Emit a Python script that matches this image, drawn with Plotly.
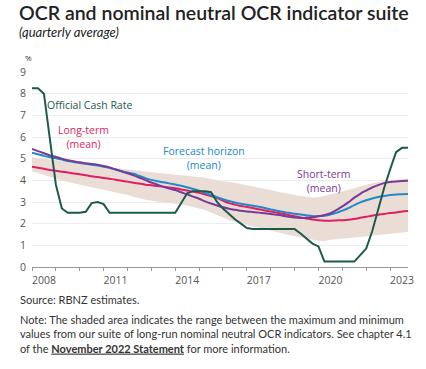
import plotly.graph_objects as go

# ---------------- data (quarterly, 2008Q1 .. 2023Q4) ----------------
quarters = [f"{y}Q{q}" for y in range(2008, 2024) for q in range(1, 5)]
x_years = [2008 + i * 0.25 for i in range(len(quarters))]

ocr = [8.25, 8.25, 8.0, 5.8,
       3.8, 2.7, 2.5, 2.5,
       2.5, 2.55, 2.95, 3.0,
       2.9, 2.5, 2.5, 2.5,
       2.5, 2.5, 2.5, 2.5,
       2.5, 2.5, 2.5, 2.5,
       2.5, 2.95, 3.4, 3.5,
       3.5, 3.5, 3.45, 3.0,
       2.7, 2.45, 2.2, 2.0,
       1.8, 1.75, 1.75, 1.75,
       1.75, 1.75, 1.75, 1.75,
       1.75, 1.55, 1.3, 1.08,
       0.95, 0.25, 0.25, 0.25,
       0.25, 0.25, 0.25, 0.55,
       0.85, 1.65, 2.7, 3.65,
       4.5, 5.3, 5.5, 5.5]

short_term = [5.45, 5.35, 5.25, 5.15,
              5.08, 5.0, 4.93, 4.88,
              4.83, 4.79, 4.75, 4.72,
              4.66, 4.59, 4.5, 4.42,
              4.33, 4.23, 4.12, 4.01,
              3.9, 3.8, 3.7, 3.62,
              3.55, 3.45, 3.35, 3.25,
              3.15, 3.03, 2.93, 2.84,
              2.76, 2.69, 2.64, 2.6,
              2.56, 2.54, 2.51, 2.48,
              2.45, 2.41, 2.37, 2.32,
              2.28, 2.26, 2.27, 2.3,
              2.34, 2.4, 2.48, 2.62,
              2.8, 2.98, 3.2, 3.38,
              3.53, 3.67, 3.78, 3.87,
              3.92, 3.95, 3.97, 3.98]

forecast_horizon = [5.27, 5.2, 5.13, 5.07,
                    5.02, 4.96, 4.89, 4.85,
                    4.8, 4.76, 4.72, 4.68,
                    4.63, 4.58, 4.5, 4.42,
                    4.36, 4.3, 4.2, 4.1,
                    4.02, 3.96, 3.91, 3.86,
                    3.81, 3.75, 3.68, 3.6,
                    3.52, 3.42, 3.32, 3.22,
                    3.13, 3.05, 2.98, 2.92,
                    2.87, 2.83, 2.78, 2.72,
                    2.66, 2.6, 2.55, 2.5,
                    2.46, 2.42, 2.38, 2.35,
                    2.35, 2.37, 2.42, 2.5,
                    2.6, 2.72, 2.86, 2.98,
                    3.08, 3.16, 3.23, 3.28,
                    3.32, 3.35, 3.36, 3.37]

long_term = [4.63, 4.58, 4.53, 4.48,
             4.44, 4.4, 4.36, 4.32,
             4.28, 4.23, 4.19, 4.15,
             4.11, 4.07, 4.03, 3.98,
             3.94, 3.89, 3.85, 3.8,
             3.77, 3.74, 3.71, 3.67,
             3.63, 3.58, 3.53, 3.48,
             3.42, 3.35, 3.27, 3.18,
             3.06, 2.95, 2.88, 2.82,
             2.77, 2.72, 2.67, 2.61,
             2.56, 2.51, 2.46, 2.4,
             2.34, 2.29, 2.24, 2.19,
             2.16, 2.14, 2.14, 2.15,
             2.16, 2.18, 2.22, 2.27,
             2.32, 2.37, 2.41, 2.45,
             2.49, 2.52, 2.56, 2.59]

range_max = [5.07, 5.04, 5.0, 4.96,
             4.92, 4.89, 4.86, 4.83,
             4.79, 4.76, 4.73, 4.71,
             4.67, 4.62, 4.57, 4.53,
             4.5, 4.47, 4.44, 4.41,
             4.38, 4.35, 4.32, 4.29,
             4.26, 4.23, 4.2, 4.18,
             4.16, 4.12, 4.06, 4.0,
             3.96, 3.93, 3.88, 3.83,
             3.77, 3.72, 3.67, 3.61,
             3.55, 3.49, 3.43, 3.37,
             3.33, 3.28, 3.24, 3.2,
             3.22, 3.28, 3.35, 3.42,
             3.49, 3.56, 3.64, 3.72,
             3.8, 3.87, 3.92, 3.97,
             4.0, 4.03, 4.06, 4.08]

range_min = [4.42, 4.33, 4.24, 4.15,
             4.07, 3.99, 3.92, 3.86,
             3.8, 3.75, 3.7, 3.65,
             3.58, 3.52, 3.46, 3.39,
             3.32, 3.24, 3.16, 3.1,
             3.06, 3.03, 3.0, 2.97,
             2.93, 2.88, 2.84, 2.78,
             2.72, 2.63, 2.52, 2.4,
             2.28, 2.17, 2.08, 2.0,
             1.93, 1.87, 1.82, 1.76,
             1.69, 1.62, 1.55, 1.48,
             1.42, 1.36, 1.3, 1.25,
             1.21, 1.2, 1.26, 1.28,
             1.3, 1.32, 1.34, 1.37,
             1.41, 1.45, 1.48, 1.52,
             1.55, 1.58, 1.6, 1.62]

year_labels = ["2008", "2011", "2014", "2017", "2020", "2023"]
y_ticks = [0, 1, 2, 3, 4, 5, 6, 7, 8, 9]

# ---------------- styles ----------------
C_OCR = "#1d5a4c"
C_LONG = "#e01f63"
C_FCST = "#2288c9"
C_SHORT = "#7b3a96"
C_BAND = "rgba(234,221,213,1)"
TXT = "#333333"
FONT = "Lato"
LFONT = "Open Sans"

fig = go.Figure()

fig.add_trace(go.Scatter(x=x_years, y=range_max, mode="lines",
                         line=dict(width=0, color=C_BAND), hoverinfo="skip",
                         showlegend=False))
fig.add_trace(go.Scatter(x=x_years, y=range_min, mode="lines", fill="tonexty",
                         fillcolor=C_BAND, line=dict(width=0, color=C_BAND),
                         hoverinfo="skip", showlegend=False))

for ys, col, nm, shp in [(long_term, C_LONG, "Long-term (mean)", "spline"),
                         (forecast_horizon, C_FCST, "Forecast horizon (mean)", "spline"),
                         (short_term, C_SHORT, "Short-term (mean)", "spline"),
                         (ocr, C_OCR, "Official Cash Rate", "linear")]:
    fig.add_trace(go.Scatter(x=x_years, y=ys, mode="lines", name=nm,
                             line=dict(color=col, width=2, shape=shp),
                             showlegend=False))

W, H = 426, 369
L, R, T, B = 32, 15, 72, 102
pw, ph = W - L - R, H - T - B


def px(xpix):
    return (xpix - L) / pw


def py(ypix):
    return (H - B - ypix) / ph


anns = []
anns.append(dict(text="OCR and nominal neutral OCR indicator suite", x=px(17), y=py(13),
                 xanchor="left", yanchor="middle", showarrow=False,
                 font=dict(family=FONT, size=19.5, color="#222", weight=600)))
anns.append(dict(text="<i>(quarterly average)</i>", x=px(17), y=py(32),
                 xanchor="left", yanchor="middle", showarrow=False,
                 font=dict(family=FONT, size=13, color="#222")))
anns.append(dict(text="%", x=px(28), y=py(57), xanchor="center", yanchor="middle",
                 showarrow=False, font=dict(family=LFONT, size=8, color=TXT)))

anns.append(dict(text="Official Cash Rate", x=2010.42, y=7.48, xref="x", yref="y",
                 showarrow=False, font=dict(family=LFONT, size=10.5, color=C_OCR)))
anns.append(dict(text="Long-term<br>(mean)", x=2010.17, y=5.98, xref="x", yref="y",
                 showarrow=False, font=dict(family=LFONT, size=10.5, color=C_LONG)))
anns.append(dict(text="Forecast horizon<br>(mean)", x=2015.22, y=5.02, xref="x", yref="y",
                 showarrow=False, font=dict(family=LFONT, size=10.5, color=C_FCST)))
anns.append(dict(text="Short-term<br>(mean)", x=2020.22, y=3.98, xref="x", yref="y",
                 showarrow=False, font=dict(family=LFONT, size=10.5, color=C_SHORT)))

anns.append(dict(text="Source: RBNZ estimates.", x=px(18), y=py(299),
                 xanchor="left", yanchor="middle", showarrow=False,
                 font=dict(family=FONT, size=11, color=TXT)))
note = ("Note: The shaded area indicates the range between the maximum and minimum<br>"
        "values from our suite of long-run nominal neutral OCR indicators. See chapter 4.1<br>"
        "of the <span style=\"text-decoration:underline\"><b>November 2022 Statement</b></span>"
        " for more information.")
anns.append(dict(text=note, x=px(18), y=py(311), xanchor="left", yanchor="top",
                 align="left", showarrow=False,
                 font=dict(family=FONT, size=11, color=TXT)))

for a in anns:
    a.setdefault("xref", "paper")
    a.setdefault("yref", "paper")

fig.update_layout(
    width=W, height=H,
    margin=dict(l=L, r=R, t=T, b=B),
    paper_bgcolor="white", plot_bgcolor="white",
    annotations=anns,
    xaxis=dict(range=[2008, 2023.75], tickvals=[int(v) + 0.5 for v in year_labels],
               ticktext=year_labels, ticks="", showgrid=False, zeroline=False,
               showline=True, linecolor="#9a9a9a", linewidth=1,
               ticklabelstandoff=3,
               tickfont=dict(family=LFONT, size=10.5, color="#555"),
               minor=dict(tickvals=list(range(2008, 2024)), ticks="outside",
                          ticklen=3, tickcolor="#9a9a9a", showgrid=False),
               fixedrange=True),
    yaxis=dict(range=[0, 9], tickvals=y_ticks, showgrid=True, gridcolor="#ececec",
               gridwidth=1, zeroline=False, showline=False, ticks="",
               ticklabelstandoff=5,
               tickfont=dict(family=LFONT, size=10.5, color="#555"),
               fixedrange=True),
)

fig.write_html("out.html", config={"displayModeBar": False},
               post_script="document.body.style.margin='0';document.body.style.padding='0';")
